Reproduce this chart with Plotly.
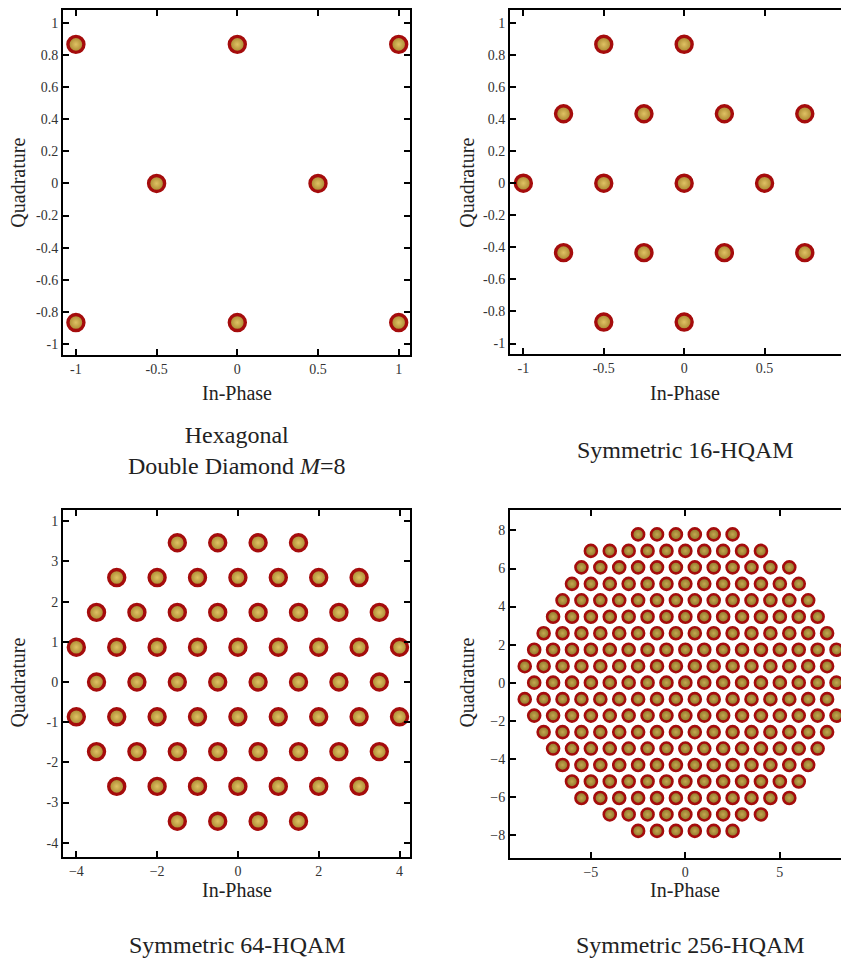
import plotly.graph_objects as go

# ---------------- data ----------------
# Hexagonal Double Diamond M=8
dd8_x = [-1, 0, 1, -0.5, 0.5, -1, 0, 1]
dd8_y = [0.866, 0.866, 0.866, 0, 0, -0.866, -0.866, -0.866]

# Symmetric 16-HQAM
h16_x = [-0.5, 0, -0.75, -0.25, 0.25, 0.75, -1, -0.5, 0, 0.5,
         -0.75, -0.25, 0.25, 0.75, -0.5, 0]
h16_y = [0.866, 0.866, 0.433, 0.433, 0.433, 0.433, 0, 0, 0, 0,
         -0.433, -0.433, -0.433, -0.433, -0.866, -0.866]

# Symmetric 64-HQAM, row by row
h64_rows_y = [3.464, 2.598, 1.732, 0.866, 0.0, -0.866, -1.732, -2.598, -3.464]
h64_rows_x = [
    [-1.5, -0.5, 0.5, 1.5],
    [-3, -2, -1, 0, 1, 2, 3],
    [-3.5, -2.5, -1.5, -0.5, 0.5, 1.5, 2.5, 3.5],
    [-4, -3, -2, -1, 0, 1, 2, 3, 4],
    [-3.5, -2.5, -1.5, -0.5, 0.5, 1.5, 2.5, 3.5],
    [-4, -3, -2, -1, 0, 1, 2, 3, 4],
    [-3.5, -2.5, -1.5, -0.5, 0.5, 1.5, 2.5, 3.5],
    [-3, -2, -1, 0, 1, 2, 3],
    [-1.5, -0.5, 0.5, 1.5],
]

# Symmetric 256-HQAM, row by row: row level, first and last in-phase value (unit spacing)
h256_rows_y = [7.794, 6.928, 6.062, 5.196, 4.330, 3.464, 2.598, 1.732, 0.866, 0.0,
               -0.866, -1.732, -2.598, -3.464, -4.330, -5.196, -6.062, -6.928, -7.794]
h256_rows_first = [-2.5, -5, -5.5, -6, -6.5, -7, -7.5, -8, -8.5, -8,
                   -8.5, -8, -7.5, -7, -6.5, -6, -5.5, -4, -2.5]
h256_rows_last = [2.5, 4, 5.5, 6, 6.5, 7, 7.5, 8, 7.5, 8,
                  7.5, 8, 7.5, 7, 6.5, 6, 5.5, 4, 2.5]

h64_x, h64_y = [], []
for yv, xs in zip(h64_rows_y, h64_rows_x):
    h64_x += xs
    h64_y += [yv] * len(xs)

h256_x, h256_y = [], []
for yv, a, b in zip(h256_rows_y, h256_rows_first, h256_rows_last):
    n = int(round(b - a)) + 1
    h256_x += [a + i for i in range(n)]
    h256_y += [yv] * n

captions = ["Hexagonal<br>Double Diamond <i>M</i>=8", "Symmetric 16-HQAM",
            "Symmetric 64-HQAM", "Symmetric 256-HQAM"]

ticks_pm1 = [-1, -0.8, -0.6, -0.4, -0.2, 0, 0.2, 0.4, 0.6, 0.8, 1]
ticks_pm1_txt = ["-1", "-0.8", "-0.6", "-0.4", "-0.2", "0", "0.2", "0.4", "0.6", "0.8", "1"]
ticks_half = [-1, -0.5, 0, 0.5, 1]
ticks_half_txt = ["-1", "-0.5", "0", "0.5", "1"]
ticks64_x = [-4, -2, 0, 2, 4]
ticks64_y = [-4, -3, -2, -1, 0, 1, 2, 3, 4]
ticks64_y_txt = ["-4", "-3", "-2", "-1", "0", "1", "2", "3", "1"]
ticks256_x = [-5, 0, 5]
ticks256_y = [-8, -6, -4, -2, 0, 2, 4, 6, 8]

# ---------------- figure ----------------
OFF = 8                     # page body margin of the browser
W, H = 849 - OFF, 967 - OFF
SERIF = "Liberation Serif, Times New Roman, serif"

fig = go.Figure()

def add_pts(x, y, ax, size, lw, inner, center):
    fig.add_trace(go.Scatter(
        x=x, y=y, mode="markers", xaxis="x" + ax, yaxis="y" + ax,
        showlegend=False, hoverinfo="skip",
        marker=dict(size=size, color=inner,
                    gradient=dict(type="radial", color=center),
                    line=dict(color="#a50c0c", width=lw))))

add_pts(dd8_x, dd8_y, "", 16, 3.4, "#a4822c", "#e0c264")
add_pts(h16_x, h16_y, "2", 16, 3.4, "#a4822c", "#e0c264")
add_pts(h64_x, h64_y, "3", 16, 3.4, "#a4822c", "#e0c264")
add_pts(h256_x, h256_y, "4", 12, 2.6, "#8a7026", "#c4a850")

def px(x):
    return (x - OFF) / W

def py(y):
    return 1 - (y - OFF) / H

axis_common = dict(showline=True, linecolor="black", linewidth=2,
                   ticks="inside", ticklen=6, tickwidth=2, tickcolor="black",
                   showgrid=False, zeroline=False,
                   tickfont=dict(family=SERIF, size=14, color="#333333"))

layout = dict(
    width=W, height=H, margin=dict(l=0, r=0, t=0, b=0),
    paper_bgcolor="white", plot_bgcolor="white",
)

# panel 1
layout["xaxis"] = dict(axis_common, domain=[px(63), px(410)], range=[-1.08, 1.07],
                       anchor="y", mirror="ticks", tickvals=ticks_half, ticktext=ticks_half_txt)
layout["yaxis"] = dict(axis_common, domain=[py(354), py(8)], range=[-1.07, 1.08],
                       anchor="x", mirror="ticks", tickvals=ticks_pm1, ticktext=ticks_pm1_txt)
# panel 2
layout["xaxis2"] = dict(axis_common, domain=[px(510), 1.0], range=[-1.083, 1.025],
                        anchor="y2", mirror="ticks", tickvals=ticks_half, ticktext=ticks_half_txt)
layout["yaxis2"] = dict(axis_common, domain=[py(353), py(8)], range=[-1.067, 1.08],
                        anchor="x2", mirror=False, tickvals=ticks_pm1, ticktext=ticks_pm1_txt)
# panel 3
layout["xaxis3"] = dict(axis_common, domain=[px(63), px(410)], range=[-4.33, 4.26],
                        anchor="y3", mirror="ticks", tickvals=ticks64_x)
layout["yaxis3"] = dict(axis_common, domain=[py(857), py(509)], range=[-4.36, 4.28],
                        anchor="x3", mirror="ticks", tickvals=ticks64_y, ticktext=ticks64_y_txt)
# panel 4
layout["xaxis4"] = dict(axis_common, domain=[px(510), 1.0], range=[-9.28, 8.66],
                        anchor="y4", mirror="ticks", tickvals=ticks256_x)
layout["yaxis4"] = dict(axis_common, domain=[py(858), py(509)], range=[-9.23, 9.08],
                        anchor="x4", mirror=False, tickvals=ticks256_y)

annotations = []
def ann(text, x, y, size, angle=0):
    annotations.append(dict(text=text, x=px(x), y=py(y), xref="paper", yref="paper",
                            showarrow=False, textangle=angle,
                            font=dict(family=SERIF, size=size, color="#222222"),
                            xanchor="center", yanchor="middle"))

# axis titles
ann("In-Phase", 237, 392, 20)
ann("In-Phase", 685, 392, 20)
ann("In-Phase", 237, 890, 20)
ann("In-Phase", 685, 890, 20)
ann("Quadrature", 18, 181, 20, -90)
ann("Quadrature", 467, 181, 20, -90)
ann("Quadrature", 18, 682, 20, -90)
ann("Quadrature", 467, 682, 20, -90)

# captions
ann(captions[0], 237, 449, 24)
ann(captions[1], 685, 449, 24)
ann(captions[2], 237, 945, 24)
ann(captions[3], 690, 945, 24)

layout["annotations"] = annotations
fig.update_layout(**layout)
fig.write_html("out.html")
